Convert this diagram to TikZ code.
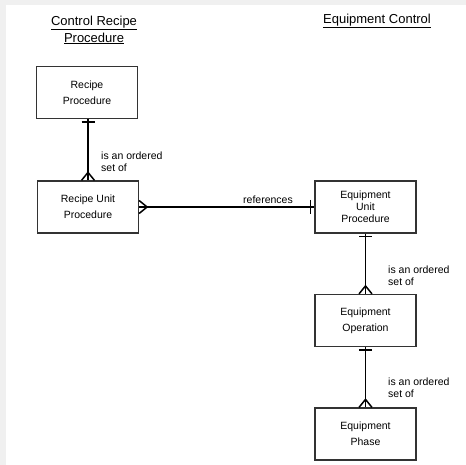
\documentclass[tikz,border=0pt]{standalone}
\usepackage{fontspec}
\setmainfont{Liberation Sans}
\usetikzlibrary{calc}
\definecolor{bggray}{HTML}{F0F0F0}
\begin{document}
\begin{tikzpicture}[x=1pt,y=-1pt,
 box/.style={draw=black!80, line width=1.2pt, minimum width=101pt, minimum height=52pt, align=center, inner sep=0pt, font=\fontsize{10.5}{16}\selectfont},
 conn/.style={line width=1.5pt, black},
 lbl/.style={font=\fontsize{10.5}{12}\selectfont, align=left, anchor=west, inner sep=0pt},
 ttl/.style={font=\fontsize{13}{17}\selectfont, align=center, inner sep=0pt}]
\fill[bggray] (0,0) rectangle (466,465);
\fill[white] (6,5) rectangle (466,465);
\useasboundingbox (0,0) rectangle (466,465);

\node[ttl] (t1) at (94,30) {\underline{Control Recipe}\\\underline{Procedure}};
\node[ttl] (t2) at (377,21) {\underline{Equipment Control}};

\node[box] (rp) at (87,92.5) {Recipe\\Procedure};
\node[box] (rup) at (88,207) {Recipe Unit\\Procedure};
\node[box, font=\fontsize{10.5}{12}\selectfont] (eup) at (365.5,207) {Equipment\\Unit\\Procedure};
\node[box] (eo) at (365.5,320.5) {Equipment\\Operation};
\node[box] (ep) at (365.5,434) {Equipment\\Phase};

% RP -> RUP
\coordinate (a1) at (rup.north |- rp.south);
\draw[conn] (a1) -- (rup.north);
\draw[conn] ($(a1)+(-6.5,3)$) -- ($(a1)+(6.5,3)$);
\draw[conn] ($(rup.north)+(-6.5,0)$) -- ($(rup.north)+(0,-8)$) -- ($(rup.north)+(6.5,0)$);

% RUP -> EUP
\draw[conn] (rup.east) -- (eup.west);
\draw[conn] ($(rup.east)+(0,-6.5)$) -- ($(rup.east)+(8,0)$) -- ($(rup.east)+(0,6.5)$);
\draw[conn] ($(eup.west)+(-4,-7)$) -- ($(eup.west)+(-4,7)$);

% EUP -> EO
\draw[conn] (eup.south) -- (eo.north);
\draw[conn] ($(eup.south)+(-6.5,3)$) -- ($(eup.south)+(6.5,3)$);
\draw[conn] ($(eo.north)+(-6.5,0)$) -- ($(eo.north)+(0,-8)$) -- ($(eo.north)+(6.5,0)$);

% EO -> EP
\draw[conn] (eo.south) -- (ep.north);
\draw[conn] ($(eo.south)+(-6.5,3)$) -- ($(eo.south)+(6.5,3)$);
\draw[conn] ($(ep.north)+(-6.5,0)$) -- ($(ep.north)+(0,-8)$) -- ($(ep.north)+(6.5,0)$);

\node[lbl] (l1) at (101,162) {is an ordered\\set of};
\node[font=\fontsize{10.5}{12}\selectfont, inner sep=0pt] (l2) at (268,199.5) {references};
\node[lbl] (l3) at (388,276) {is an ordered\\set of};
\node[lbl] (l4) at (388,388) {is an ordered\\set of};
\end{tikzpicture}
\end{document}
